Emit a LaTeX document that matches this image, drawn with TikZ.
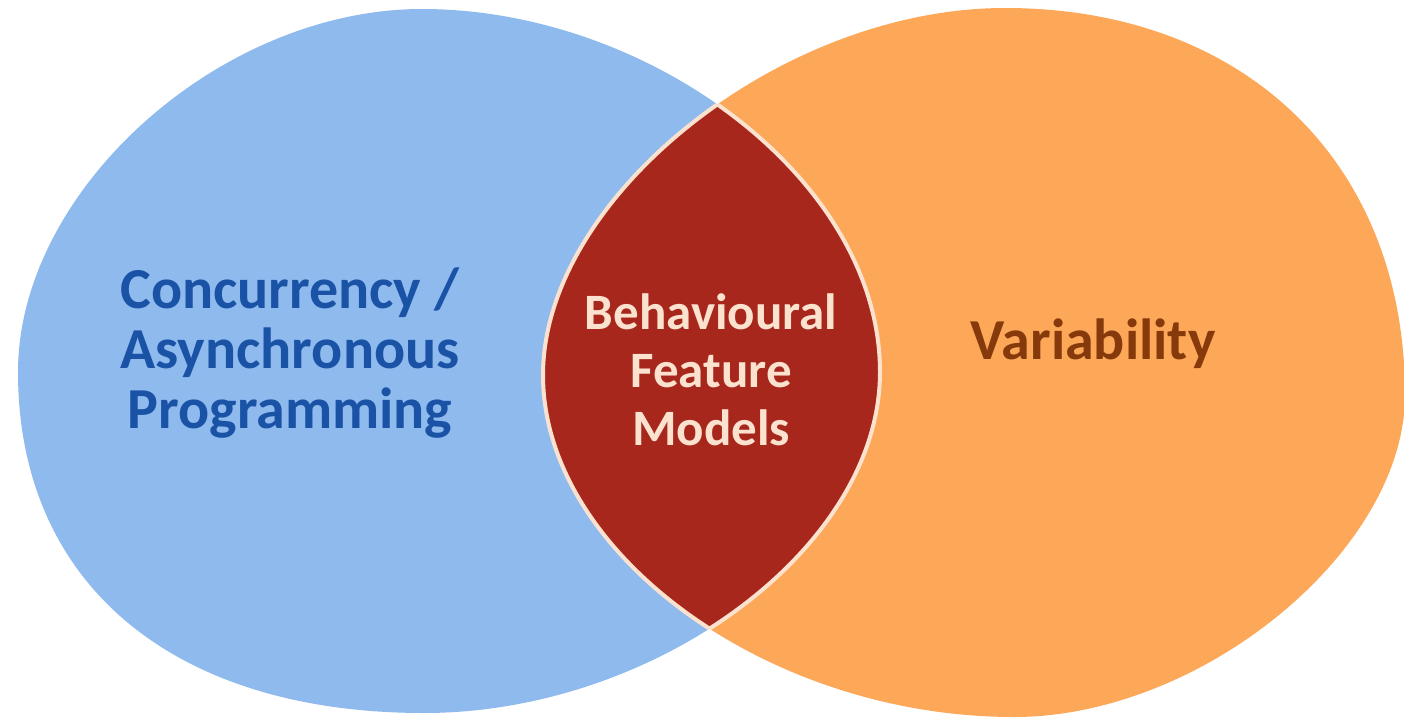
\documentclass[tikz,border=0pt]{standalone}
\usepackage{fontspec}
\setmainfont{Carlito}
\definecolor{setblue}{RGB}{142,186,238}
\definecolor{setorange}{RGB}{253,167,89}
\definecolor{lensred}{RGB}{168,39,29}
\definecolor{lenscream}{RGB}{250,226,206}
\definecolor{conctext}{RGB}{26,82,166}
\definecolor{vartext}{RGB}{134,58,12}
\begin{document}
\begin{tikzpicture}[x=0.5pt,y=0.5pt,yscale=-1,
  settext/.style={inner sep=0pt,align=center,font=\bfseries\fontsize{29}{30}\selectfont},
  lenstext/.style={inner sep=0pt,align=center,text=lenscream,font=\bfseries\fontsize{25.5}{29}\selectfont},
  lensedge/.style={draw=lenscream,line width=2pt}]
    % Background
    \fill[white] (0,0) rectangle (1404,718);
    \useasboundingbox (0,0) rectangle (1404,718);
    % Blue set
    \def\blueset{(422,9) .. controls (220,9) and (18,190) .. (18,372) .. controls (18,583) and (172,713) .. (424,713) .. controls (654,713) and (880,549) .. (880,372) .. controls (880,180) and (650,9) .. (422,9) -- cycle}
    % Orange set
    \def\orangeset{(1005,8) .. controls (780,8) and (543,198) .. (543,375) .. controls (543,553) and (768,717) .. (1014,717) .. controls (1202,717) and (1405,550) .. (1405,395) .. controls (1405,163) and (1245,8) .. (1005,8) -- cycle}
    \fill[setblue] \blueset;
    \fill[setorange] \orangeset;
    % Lens
    \begin{scope}
      \clip \blueset;
      \fill[lensred] \orangeset;
      \draw[lensedge] \orangeset;
    \end{scope}
    \begin{scope}
      \clip \orangeset;
      \draw[lensedge] \blueset;
    \end{scope}

    % Text Nodes
    \node[settext,text=conctext] (conc) at (290,353) {Concurrency /\\Asynchronous\\Programming};
    \node[lenstext] (bfm) at (711,370) {Behavioural\\Feature\\Models};
    \node[settext,text=vartext] (var) at (1093,344) {Variability};
\end{tikzpicture}
\end{document}
